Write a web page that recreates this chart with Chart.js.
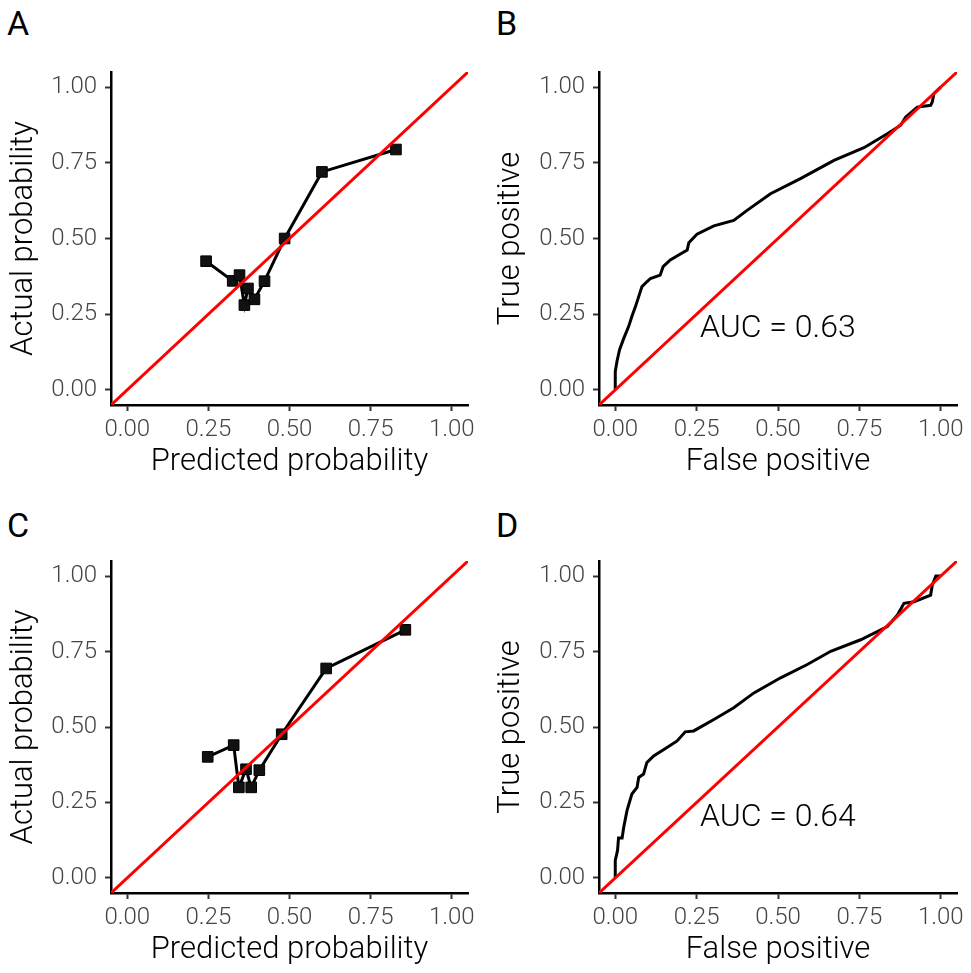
<!DOCTYPE html>
<html>
<head>
<meta charset="utf-8">
<script src="https://cdn.jsdelivr.net/npm/chart.js@4.4.0/dist/chart.umd.min.js"></script>
<style>
  body { margin: 0; background: #fff; }
  #page { position: relative; width: 971px; height: 973px; background: #fff; }
  .panel { position: absolute; }
  .letter { position: absolute; font: 34px Roboto, "Liberation Sans", sans-serif; line-height: 34px; color: #000; }
</style>
</head>
<body>
<div id="page">
  <div class="letter" style="left:7px;top:6px">A</div>
  <div class="letter" style="left:496px;top:6px">B</div>
  <div class="letter" style="left:7px;top:508px">C</div>
  <div class="letter" style="left:496px;top:508px">D</div>
  <div class="panel" style="left:0;top:0;width:485px;height:485px"><canvas id="chartA"></canvas></div>
  <div class="panel" style="left:485px;top:0;width:486px;height:485px"><canvas id="chartB"></canvas></div>
  <div class="panel" style="left:0;top:488px;width:485px;height:485px"><canvas id="chartC"></canvas></div>
  <div class="panel" style="left:485px;top:488px;width:486px;height:485px"><canvas id="chartD"></canvas></div>
</div>
<script>
// TICKS
const tickValues = [0, 0.25, 0.5, 0.75, 1];
const axisMin = -0.05;
const axisMax = 1.05;

// CALIBRATION, TRAINING (A)
const calPredA = [0.243, 0.325, 0.346, 0.361, 0.372, 0.392, 0.423, 0.485, 0.600, 0.828];
const calActualA = [0.425, 0.360, 0.379, 0.280, 0.335, 0.299, 0.359, 0.500, 0.720, 0.794];

// CALIBRATION, VALIDATION (C)
const calPredC = [0.248, 0.328, 0.344, 0.366, 0.382, 0.407, 0.476, 0.613, 0.857];
const calActualC = [0.401, 0.440, 0.300, 0.360, 0.300, 0.357, 0.476, 0.694, 0.822];

// ROC (B)
const fprB = [0, 0, 0.005, 0.013, 0.026, 0.041, 0.051, 0.062, 0.072, 0.082, 0.097, 0.108, 0.138, 0.147,
  0.169, 0.221, 0.226, 0.251, 0.303, 0.364, 0.405, 0.477, 0.569, 0.672, 0.764, 0.836, 0.877, 0.892,
  0.928, 0.969, 0.974, 0.979, 1.0];
const tprB = [0, 0.06, 0.093, 0.132, 0.170, 0.209, 0.242, 0.275, 0.308, 0.341, 0.357, 0.368, 0.379, 0.407,
  0.429, 0.462, 0.486, 0.514, 0.542, 0.560, 0.593, 0.648, 0.698, 0.758, 0.800, 0.846, 0.874, 0.901,
  0.934, 0.940, 0.951, 0.978, 1.0];

// ROC (D)
const fprD = [0, 0, 0.007, 0.010, 0.021, 0.026, 0.036, 0.051, 0.067, 0.072, 0.087, 0.097, 0.118, 0.159,
  0.190, 0.215, 0.241, 0.303, 0.364, 0.426, 0.508, 0.590, 0.662, 0.754, 0.836, 0.867, 0.887, 0.918,
  0.969, 0.974, 0.985, 1.0];
const tprD = [0, 0.058, 0.091, 0.132, 0.132, 0.168, 0.223, 0.278, 0.300, 0.333, 0.344, 0.382, 0.404, 0.432,
  0.454, 0.484, 0.487, 0.525, 0.564, 0.613, 0.663, 0.707, 0.751, 0.789, 0.833, 0.871, 0.910, 0.915,
  0.937, 0.970, 1.0, 1.0];

const aucB = 0.63;
const aucD = 0.64;

const FONT = "Roboto, 'Liberation Sans', sans-serif";

function toPoints(xs, ys) {
  return xs.map((x, i) => ({ x: x, y: ys[i] }));
}

// AUC LABEL
const aucLabel = {
  id: "aucLabel",
  afterDatasetsDraw(chart, args, opts) {
    if (!opts.text) return;
    const ctx = chart.ctx;
    const x = chart.scales.x.getPixelForValue(0.26);
    const y = chart.scales.y.getPixelForValue(0.2);
    ctx.save();
    ctx.font = "300 32px " + FONT;
    ctx.fillStyle = "#000";
    ctx.textAlign = "left";
    ctx.textBaseline = "middle";
    ctx.fillText(opts.text, x, y);
    ctx.restore();
  }
};

function axis(title, isY, size, titlePad) {
  return {
    type: "linear",
    min: axisMin,
    max: axisMax,
    afterBuildTicks: s => { s.ticks = tickValues.map(v => ({ value: v })); },
    afterFit: s => { if (isY) s.width = size; else s.height = size; },
    ticks: {
      color: "#444",
      font: { family: FONT, size: 24, weight: 300 },
      padding: isY ? 8 : 5,
      callback: v => v.toFixed(2)
    },
    grid: {
      display: true,
      drawOnChartArea: false,
      drawTicks: true,
      tickLength: 6,
      tickColor: "#333",
      tickWidth: 2
    },
    border: { display: true, color: "#000", width: 2.5 },
    title: {
      display: true,
      text: title,
      color: "#000",
      font: { family: FONT, size: 31, weight: 300 },
      padding: isY ? { top: titlePad, bottom: 0 } : { top: 0, bottom: titlePad }
    }
  };
}

function createChart(id, mainData, isCal, xTitle, yTitle, layout, auc) {
  const main = isCal ? {
    data: mainData,
    borderColor: "#000",
    borderWidth: 3,
    pointStyle: "rect",
    pointRadius: 7.5,
    pointBackgroundColor: "#111",
    pointBorderColor: "#000",
    pointBorderWidth: 1,
    order: 1
  } : {
    data: mainData,
    borderColor: "#000",
    borderWidth: 3,
    pointRadius: 0,
    order: 1
  };
  return new Chart(document.getElementById(id), {
    type: "line",
    data: {
      datasets: [
        main,
        {
          data: [{ x: axisMin, y: axisMin }, { x: axisMax, y: axisMax }],
          borderColor: "#ff0000",
          borderWidth: 3,
          pointRadius: 0,
          order: 0
        }
      ]
    },
    options: {
      responsive: true,
      maintainAspectRatio: false,
      animation: false,
      events: [],
      layout: { padding: layout.pad },
      plugins: {
        legend: { display: false },
        tooltip: { enabled: false },
        aucLabel: { text: auc ? "AUC = " + auc.toFixed(2) : "" }
      },
      scales: {
        x: axis(xTitle, false, layout.xh, 4),
        y: axis(yTitle, true, layout.yw, layout.ytp)
      }
    },
    plugins: [aucLabel]
  });
}

createChart("chartA", toPoints(calPredA, calActualA), true, "Predicted probability", "Actual probability",
  { pad: { top: 72, right: 17, bottom: 0, left: 0 }, xh: 80, yw: 111, ytp: 6 });
createChart("chartB", toPoints(fprB, tprB), false, "False positive", "True positive",
  { pad: { top: 72, right: 14, bottom: 0, left: 0 }, xh: 80, yw: 114, ytp: 8 }, aucB);
createChart("chartC", toPoints(calPredC, calActualC), true, "Predicted probability", "Actual probability",
  { pad: { top: 73, right: 17, bottom: 0, left: 0 }, xh: 80, yw: 111, ytp: 6 });
createChart("chartD", toPoints(fprD, tprD), false, "False positive", "True positive",
  { pad: { top: 73, right: 14, bottom: 0, left: 0 }, xh: 80, yw: 114, ytp: 8 }, aucD);
</script>
</body>
</html>
